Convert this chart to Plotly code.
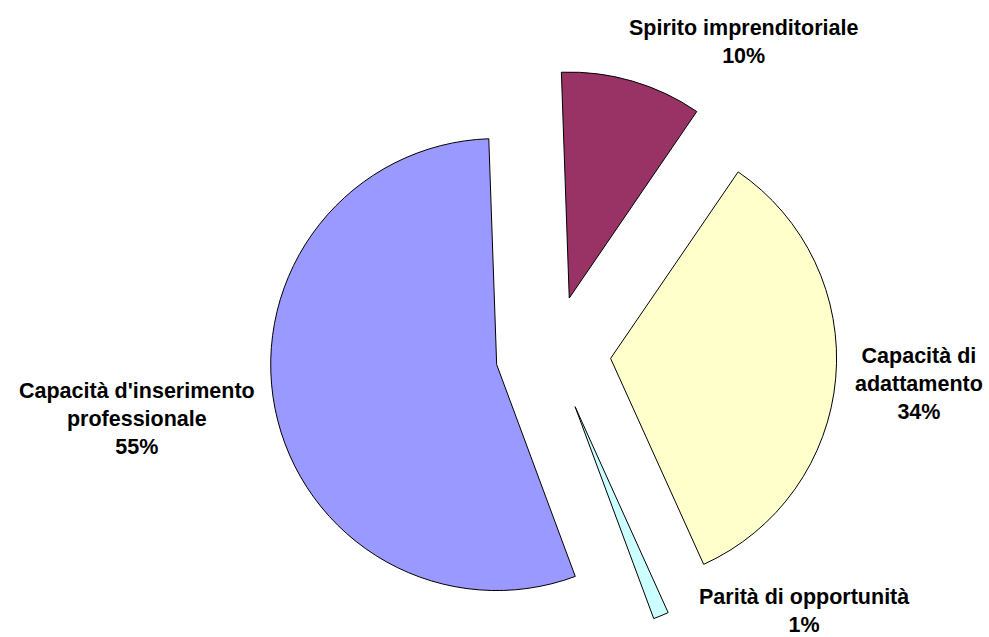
import plotly.graph_objects as go

categories = ["Spirito imprenditoriale", "Capacità di adattamento",
              "Parità di opportunità", "Capacità d'inserimento professionale"]
label_text = ["Spirito imprenditoriale", "Capacità di<br>adattamento",
              "Parità di opportunità", "Capacità d'inserimento<br>professionale"]
values = [10.1, 33.7, 1.1, 55.1]
colors = ["#993366", "#FFFFCC", "#CCFFFF", "#9999FF"]

# label block centres in pixels (x from left, y from top)
label_pos = [(743, 42), (919, 384), (804, 611), (137, 419)]

W, H = 989, 637
total = sum(values)

fig = go.Figure(go.Pie(
    labels=categories,
    values=values,
    sort=False,
    direction="clockwise",
    rotation=-2,
    pull=[0.255] * len(values),
    marker=dict(colors=colors, line=dict(color="black", width=1)),
    textinfo="none",
    hoverinfo="label+percent",
    domain=dict(x=[263.2 / W, 843.2 / W], y=[0, 567.2 / H]),
    showlegend=False,
))

for txt, v, (px, py) in zip(label_text, values, label_pos):
    fig.add_annotation(
        x=px / W, y=1 - py / H, xref="paper", yref="paper",
        xanchor="center", yanchor="middle", showarrow=False,
        text=f"{txt}<br>{round(v / total * 100)}%",
        align="center",
        font=dict(family="Liberation Sans, Arial, sans-serif", size=21.5,
                  color="black", weight="bold"),
    )

fig.update_layout(
    width=W, height=H,
    margin=dict(l=0, r=0, t=0, b=0),
    paper_bgcolor="white", plot_bgcolor="white",
)

fig.write_html(
    "out.html",
    config={"displayModeBar": False},
    post_script="document.body.style.margin='0';document.body.style.overflow='hidden';",
)
